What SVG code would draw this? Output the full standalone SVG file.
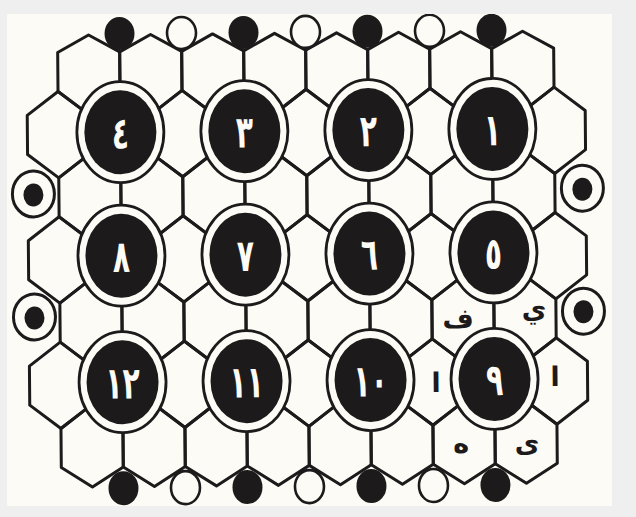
<svg xmlns="http://www.w3.org/2000/svg" xmlns:xlink="http://www.w3.org/1999/xlink" width="636" height="517" viewBox="0 0 636 517">
<style>
.hx{fill:none;stroke:#1c1a1b;stroke-width:3;stroke-linejoin:round}
.ring{fill:#fcfbf5;stroke:#1c1a1b;stroke-width:2.8}
.core{fill:#1c1a1b}
.blk{fill:#1c1a1b}
.wht{fill:#fcfbf5;stroke:#1c1a1b;stroke-width:2.6}
.side{fill:#fcfbf5;stroke:#1c1a1b;stroke-width:3}
.num{font-family:"DejaVu Sans",sans-serif;font-weight:bold;font-size:33px;fill:#fcfbf5;text-anchor:middle}
.lbl{font-family:"DejaVu Sans",sans-serif;font-weight:bold;font-size:27px;fill:#1c1a1b;text-anchor:middle}
</style>
<defs>
<polygon id="h" class="hx" points="0,-43.2 31,-19.5 31,19.5 0,43.2 -31,19.5 -31,-19.5"/>
<polygon id="ht" class="hx" points="0,-36.7 31,-19.5 31,19.5 0,43.2 -31,19.5 -31,-19.5"/>
<polygon id="hb" class="hx" points="0,-43.2 31,-19.5 31,19.5 0,39.2 -31,19.5 -31,-19.5"/>
<clipPath id="pg"><rect x="7" y="14" width="605" height="492"/></clipPath>
</defs>
<rect width="636" height="517" fill="#efefef"/>
<rect x="7" y="14" width="605" height="492" fill="#fcfbf5"/>
<g clip-path="url(#pg)">
<g transform="rotate(-0.5 318 260)">
<g id="connectors">
<use href="#ht" x="90.5" y="69.7"/><use href="#ht" x="152.5" y="69.7"/><use href="#ht" x="214.5" y="69.7"/><use href="#ht" x="276.5" y="69.7"/><use href="#ht" x="338.5" y="69.7"/><use href="#ht" x="400.5" y="69.7"/><use href="#ht" x="462.5" y="69.7"/><use href="#ht" x="524.5" y="69.7"/>
<use href="#h" x="59.5" y="132.4"/><use href="#h" x="121.5" y="132.4"/><use href="#h" x="183.5" y="132.4"/><use href="#h" x="245.5" y="132.4"/><use href="#h" x="307.5" y="132.4"/><use href="#h" x="369.5" y="132.4"/><use href="#h" x="431.5" y="132.4"/><use href="#h" x="493.5" y="132.4"/><use href="#h" x="555.5" y="132.4"/>
<use href="#h" x="90.5" y="195.1"/><use href="#h" x="152.5" y="195.1"/><use href="#h" x="214.5" y="195.1"/><use href="#h" x="276.5" y="195.1"/><use href="#h" x="338.5" y="195.1"/><use href="#h" x="400.5" y="195.1"/><use href="#h" x="462.5" y="195.1"/><use href="#h" x="524.5" y="195.1"/>
<use href="#h" x="59.5" y="257.7"/><use href="#h" x="121.5" y="257.7"/><use href="#h" x="183.5" y="257.7"/><use href="#h" x="245.5" y="257.7"/><use href="#h" x="307.5" y="257.7"/><use href="#h" x="369.5" y="257.7"/><use href="#h" x="431.5" y="257.7"/><use href="#h" x="493.5" y="257.7"/><use href="#h" x="555.5" y="257.7"/>
<use href="#h" x="90.5" y="320.4"/><use href="#h" x="152.5" y="320.4"/><use href="#h" x="214.5" y="320.4"/><use href="#h" x="276.5" y="320.4"/><use href="#h" x="338.5" y="320.4"/><use href="#h" x="400.5" y="320.4"/><use href="#h" x="462.5" y="320.4"/><use href="#h" x="524.5" y="320.4"/>
<use href="#h" x="59.5" y="383.1"/><use href="#h" x="121.5" y="383.1"/><use href="#h" x="183.5" y="383.1"/><use href="#h" x="245.5" y="383.1"/><use href="#h" x="307.5" y="383.1"/><use href="#h" x="369.5" y="383.1"/><use href="#h" x="431.5" y="383.1"/><use href="#h" x="493.5" y="383.1"/><use href="#h" x="555.5" y="383.1"/>
<use href="#hb" x="90.5" y="445.8"/><use href="#hb" x="152.5" y="445.8"/><use href="#hb" x="214.5" y="445.8"/><use href="#hb" x="276.5" y="445.8"/><use href="#hb" x="338.5" y="445.8"/><use href="#hb" x="400.5" y="445.8"/><use href="#hb" x="462.5" y="445.8"/><use href="#hb" x="524.5" y="445.8"/>
</g>
<g id="top-pegs">
<g id="t1"><ellipse class="blk" cx="121.5" cy="31.8" rx="15" ry="16.5"/></g>
<g id="t2"><ellipse class="wht" cx="183.5" cy="31.8" rx="14.5" ry="16"/></g>
<g id="t3"><ellipse class="blk" cx="245.5" cy="31.8" rx="15" ry="16.5"/></g>
<g id="t4"><ellipse class="wht" cx="307.5" cy="31.8" rx="14.5" ry="16"/></g>
<g id="t5"><ellipse class="blk" cx="369.5" cy="31.8" rx="15" ry="16.5"/></g>
<g id="t6"><ellipse class="wht" cx="431.5" cy="31.8" rx="14.5" ry="16"/></g>
<g id="t7"><ellipse class="blk" cx="493.5" cy="31.8" rx="15" ry="16.5"/></g>
</g>
<g id="bottom-pegs">
<g id="b1"><ellipse class="blk" cx="121.5" cy="486.5" rx="15" ry="17"/></g>
<g id="b2"><ellipse class="wht" cx="183.5" cy="486.5" rx="14.5" ry="16.5"/></g>
<g id="b3"><ellipse class="blk" cx="245.5" cy="486.5" rx="15" ry="17"/></g>
<g id="b4"><ellipse class="wht" cx="307.5" cy="486.5" rx="14.5" ry="16.5"/></g>
<g id="b5"><ellipse class="blk" cx="369.5" cy="486.5" rx="15" ry="17"/></g>
<g id="b6"><ellipse class="wht" cx="431.5" cy="486.5" rx="14.5" ry="16.5"/></g>
<g id="b7"><ellipse class="blk" cx="493.5" cy="486.5" rx="15" ry="17"/></g>
</g>
<g id="side-pegs">
<g id="l1"><ellipse class="side" cx="34" cy="191.5" rx="21" ry="23"/><ellipse class="blk" cx="34" cy="192.5" rx="10" ry="11.5"/></g>
<g id="l2"><ellipse class="side" cx="34" cy="314.5" rx="21" ry="23"/><ellipse class="blk" cx="34" cy="315.5" rx="10" ry="11.5"/></g>
<g id="r1"><ellipse class="side" cx="583" cy="190.5" rx="21" ry="23"/><ellipse class="blk" cx="583" cy="191.5" rx="10" ry="11.5"/></g>
<g id="r2"><ellipse class="side" cx="583" cy="313.5" rx="21" ry="23"/><ellipse class="blk" cx="583" cy="314" rx="10" ry="11.5"/></g>
</g>
<g id="n4"><ellipse class="ring" cx="121.5" cy="130.5" rx="43.5" ry="50.5"/><ellipse class="core" cx="121.5" cy="130.5" rx="36" ry="42"/><text class="num" transform="translate(121.5 130.5) scale(0.85 1.35)" y="12">٤</text></g>
<g id="n3"><ellipse class="ring" cx="245.5" cy="130.5" rx="43.5" ry="50.5"/><ellipse class="core" cx="245.5" cy="130.5" rx="36" ry="42"/><text class="num" transform="translate(245.5 130.5) scale(0.85 1.35)" y="12">٣</text></g>
<g id="n2"><ellipse class="ring" cx="369.5" cy="130.5" rx="43.5" ry="50.5"/><ellipse class="core" cx="369.5" cy="130.5" rx="36" ry="42"/><text class="num" transform="translate(369.5 130.5) scale(0.85 1.35)" y="12">٢</text></g>
<g id="n1"><ellipse class="ring" cx="493.5" cy="130.5" rx="43.5" ry="50.5"/><ellipse class="core" cx="493.5" cy="130.5" rx="36" ry="42"/><text class="num" transform="translate(493.5 130.5) scale(0.85 1.35)" y="12">١</text></g>
<g id="n8"><ellipse class="ring" cx="121.5" cy="254" rx="43.5" ry="50.5"/><ellipse class="core" cx="121.5" cy="254" rx="36" ry="42"/><text class="num" transform="translate(121.5 254) scale(0.85 1.35)" y="12">٨</text></g>
<g id="n7"><ellipse class="ring" cx="245.5" cy="254" rx="43.5" ry="50.5"/><ellipse class="core" cx="245.5" cy="254" rx="36" ry="42"/><text class="num" transform="translate(245.5 254) scale(0.85 1.35)" y="12">٧</text></g>
<g id="n6"><ellipse class="ring" cx="369.5" cy="254" rx="43.5" ry="50.5"/><ellipse class="core" cx="369.5" cy="254" rx="36" ry="42"/><text class="num" transform="translate(369.5 254) scale(0.85 1.35)" y="12">٦</text></g>
<g id="n5"><ellipse class="ring" cx="493.5" cy="254" rx="43.5" ry="50.5"/><ellipse class="core" cx="493.5" cy="254" rx="36" ry="42"/><text class="num" transform="translate(493.5 254) scale(0.85 1.35)" y="12">٥</text></g>
<g id="n12"><ellipse class="ring" cx="121.5" cy="380.5" rx="43.5" ry="50.5"/><ellipse class="core" cx="121.5" cy="380.5" rx="36" ry="42"/><text class="num" transform="translate(121.5 380.5) scale(0.85 1.35)" y="12">١٢</text></g>
<g id="n11"><ellipse class="ring" cx="245.5" cy="380.5" rx="43.5" ry="50.5"/><ellipse class="core" cx="245.5" cy="380.5" rx="36" ry="42"/><text class="num" transform="translate(245.5 380.5) scale(0.85 1.35)" y="12">١١</text></g>
<g id="n10"><ellipse class="ring" cx="369.5" cy="380.5" rx="43.5" ry="50.5"/><ellipse class="core" cx="369.5" cy="380.5" rx="36" ry="42"/><text class="num" transform="translate(369.5 380.5) scale(0.85 1.35)" y="12">١٠</text></g>
<g id="n9"><ellipse class="ring" cx="493.5" cy="380.5" rx="43.5" ry="50.5"/><ellipse class="core" cx="493.5" cy="380.5" rx="36" ry="42"/><text class="num" transform="translate(493.5 380.5) scale(0.85 1.35)" y="12">٩</text></g>
<g id="labels">
<text class="lbl" x="457.5" y="329">ف</text>
<text class="lbl" x="533.5" y="320">ي</text>
<text class="lbl" x="435" y="393">ا</text>
<text class="lbl" x="554" y="388">ا</text>
<text class="lbl" x="459.5" y="454">ه</text>
<text class="lbl" x="525.5" y="454">ى</text>
</g>
</g>
</g>
</svg>
